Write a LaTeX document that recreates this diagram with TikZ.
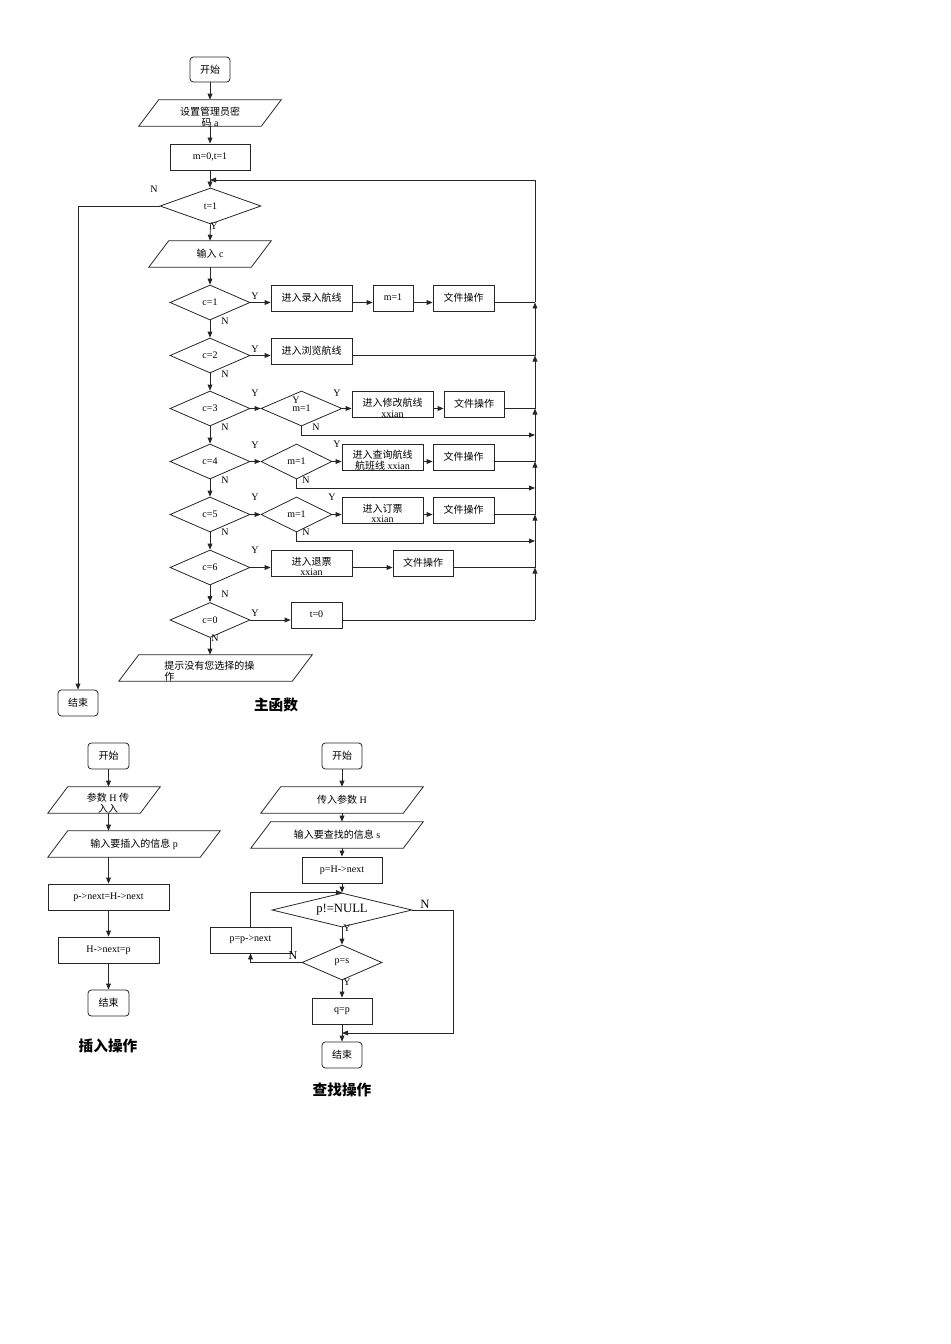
\documentclass[tikz,border=0pt]{standalone}
\usepackage{fontspec}
\setmainfont{Liberation Serif}
\newfontfamily\cjk{Noto Sans CJK SC}
\usetikzlibrary{shapes.geometric,arrows.meta,calc}
\newcommand\zh[1]{{\cjk #1}}
\newcommand\fs{\fontsize{7.5}{8}\selectfont}
\newcommand\para[6]{%
  \node[ptext, sz={#4}{#5}] (#1) at (#2,#3) {#6};
  \draw[ln] ($(#1.south west)+(-10,0)$) -- ($(#1.south east)+(-10,0)$) -- ($(#1.north east)+(10,0)$) -- ($(#1.north west)+(10,0)$) -- cycle;}
\tikzset{
  ln/.style={line width=0.6pt, draw=black!85},
  arr/.style={ln, -{Triangle[length=4.5pt,width=3.6pt]}},
  bx/.style={draw=black!85, line width=0.6pt, rectangle, inner sep=0pt, align=center, font=\fs},
  rbx/.style={bx, rounded corners=2.5pt},
  dia/.style={draw=black!85, line width=0.6pt, diamond, aspect=3, inner sep=0pt, align=center, font=\fs},
  sz/.style 2 args={minimum width=#1*0.75pt, minimum height=#2*0.75pt},
  lab/.style={inner sep=0pt, font=\fs},
  ptext/.style={rectangle, inner sep=0pt, align=center, font=\fs},
  ttl/.style={inner sep=0pt, font=\fontsize{11}{12}\selectfont\cjk\bfseries},
}
\begin{document}
\begin{tikzpicture}[x=0.75pt,y=-0.75pt]
\useasboundingbox (0,0) rectangle (950,1344);
% ---------------- main function ----------------
\node[rbx, sz={40}{25}] (s0) at (210,69.5) {\zh{开始}};
\para{pa}{210}{113}{122}{26}{}
\node[ptext] (pat) at (210,117) {\zh{设置管理员密}\\\zh{码} a};
\node[bx, sz={80}{26}] (m0) at (210,157) {m=0,t=1};
\node[dia, sz={101}{36}] (t1) at (210.5,206) {t=1};
\para{ic}{210}{254}{102}{26}{\zh{输入} c}
\node[dia, sz={80}{35}] (c1) at (210,302.5) {c=1};
\node[bx, sz={81}{26}] (b1) at (311.5,298) {\raisebox{1.5pt}{\zh{进入录入航线}}};
\node[bx, sz={40}{26}] (m1a) at (393,298) {\raisebox{1.5pt}{m=1}};
\node[bx, sz={61}{26}] (f1) at (463.5,298) {\raisebox{1.5pt}{\zh{文件操作}}};
\node[dia, sz={80}{35}] (c2) at (210,355.5) {c=2};
\node[bx, sz={81}{26}] (b2) at (311.5,351) {\raisebox{1.5pt}{\zh{进入浏览航线}}};
\node[dia, sz={80}{35}] (c3) at (210,408.5) {c=3};
\node[dia, sz={81}{35}] (d3) at (301.5,408.5) {m=1};
\node[bx, sz={81}{26}] (b3) at (392.5,404) {};
\node[ptext] (b3t) at (392.5,407.5) {\zh{进入修改航线}\\xxian};
\node[bx, sz={60}{26}] (f3) at (474,404) {\raisebox{1.5pt}{\zh{文件操作}}};
\node[dia, sz={80}{35}] (c4) at (210,461.5) {c=4};
\node[dia, sz={71}{35}] (d4) at (296.5,461.5) {m=1};
\node[bx, sz={81}{26}] (b4) at (382.5,457) {};
\node[ptext] (b4t) at (382.5,460) {\zh{进入查询航线}\\\zh{航班线} xxian};
\node[bx, sz={61}{26}] (f4) at (463.5,457) {\raisebox{1.5pt}{\zh{文件操作}}};
\node[dia, sz={80}{35}] (c5) at (210,514.5) {c=5};
\node[dia, sz={71}{35}] (d5) at (296.5,514.5) {m=1};
\node[bx, sz={81}{26}] (b5) at (382.5,510) {};
\node[ptext] (b5t) at (382.5,513.5) {\zh{进入订票}\\xxian};
\node[bx, sz={61}{26}] (f5) at (463.5,510) {\raisebox{1.5pt}{\zh{文件操作}}};
\node[dia, sz={80}{35}] (c6) at (210,567.5) {c=6};
\node[bx, sz={81}{26}] (b6) at (311.5,563) {};
\node[ptext] (b6t) at (311.5,566.5) {\zh{进入退票}\\xxian};
\node[bx, sz={60}{26}] (f6) at (423,563) {\raisebox{1.5pt}{\zh{文件操作}}};
\node[dia, sz={80}{35}] (c0) at (210,620) {c=0};
\node[bx, sz={51}{26}] (t0) at (316.5,615) {\raisebox{1.5pt}{t=0}};
\node[ptext, sz={173}{26}, align=left] (tip) at (215.5,668) {};
\draw[ln] ($(tip.south west)+(-10,0)$) -- ($(tip.south east)+(-10,0)$) -- ($(tip.north east)+(10,0)$) -- ($(tip.north west)+(10,0)$) -- cycle;
\node[ptext, align=left, anchor=west] (tipt) at (164,671) {\zh{提示没有您选择的操}\\\zh{作}};
\node[rbx, sz={40}{26}] (e0) at (78,703) {\zh{结束}};
\node[ttl] (tm) at (276,705) {主函数};
% junction coordinates on right spine
\coordinate (jt) at (535,180);
\coordinate (j1) at (535,302.5);
\coordinate (j2) at (535,355.5);
\coordinate (j3) at (535,408.5);
\coordinate (n3) at (535,435);
\coordinate (j4) at (535,461.5);
\coordinate (n4) at (535,488);
\coordinate (j5) at (535,514.5);
\coordinate (n5) at (535,541);
\coordinate (j6) at (535,567.5);
\coordinate (j0) at (535,620);
\coordinate (lt) at (78,206);
% main vertical flow
\draw[arr] (s0.south) -- (pa.north);
\draw[arr] (pa.south) -- (m0.north);
\draw[arr] (m0.south) -- (m0.south |- t1.north);
\draw[arr] (t1.south) -- (ic.north);
\draw[arr] (ic.south) -- (c1.north);
\draw[arr] (c1.south) -- (c2.north);
\draw[arr] (c2.south) -- (c3.north);
\draw[arr] (c3.south) -- (c4.north);
\draw[arr] (c4.south) -- (c5.north);
\draw[arr] (c5.south) -- (c6.north);
\draw[arr] (c6.south) -- (c0.north);
\draw[arr] (c0.south) -- (c0.south |- tip.north);
\draw[arr] (t1.west) -- (lt) -- (e0.north);
% branches
\draw[arr] (c1.east) -- (c1.east -| b1.west);
\draw[arr] (b1.east |- c1) -- (m1a.west |- c1);
\draw[arr] (m1a.east |- c1) -- (f1.west |- c1);
\draw[ln] (f1.east |- c1) -- (j1);
\draw[arr] (c2.east) -- (c2.east -| b2.west);
\draw[ln] (b2.east |- c2) -- (j2);
\draw[arr] (c3.east) -- (d3.west);
\draw[arr] (d3.east) -- (d3.east -| b3.west);
\draw[arr] (b3.east |- d3) -- (f3.west |- d3);
\draw[ln] (f3.east |- d3) -- (j3);
\draw[arr] (d3.south) -- (d3.south |- n3) -- (n3);
\draw[arr] (c4.east) -- (d4.west);
\draw[arr] (d4.east) -- (d4.east -| b4.west);
\draw[arr] (b4.east |- d4) -- (f4.west |- d4);
\draw[ln] (f4.east |- d4) -- (j4);
\draw[arr] (d4.south) -- (d4.south |- n4) -- (n4);
\draw[arr] (c5.east) -- (d5.west);
\draw[arr] (d5.east) -- (d5.east -| b5.west);
\draw[arr] (b5.east |- d5) -- (f5.west |- d5);
\draw[ln] (f5.east |- d5) -- (j5);
\draw[arr] (d5.south) -- (d5.south |- n5) -- (n5);
\draw[arr] (c6.east) -- (c6.east -| b6.west);
\draw[arr] (b6.east |- c6) -- (f6.west |- c6);
\draw[ln] (f6.east |- c6) -- (j6);
\draw[arr] (c0.east) -- (c0.east -| t0.west);
\draw[ln] (t0.east |- c0) -- (j0);
% right spine
\draw[arr] (j0) -- (j6);
\draw[arr] (j6) -- (j5);
\draw[arr] (j5) -- (j4);
\draw[arr] (j4) -- (j3);
\draw[arr] (j3) -- (j2);
\draw[arr] (j2) -- (j1);
\draw[arr] (j1) -- (jt) -- (m0.south |- jt);
% labels
\node[lab] at (154,189) {N};
\node[lab] at (214,226) {Y};
\foreach \yy in {321,374,427,480,532} \node[lab] at (225,\yy) {N};
\node[lab] at (225,594) {N};
\node[lab] at (215,638) {N};
\foreach \yy in {296,349,393,445,497,550} \node[lab] at (255,\yy) {Y};
\node[lab] at (255,613) {Y};
\node[lab] at (296,400) {Y};
\node[lab] at (337,393) {Y};
\node[lab] at (337,444) {Y};
\node[lab] at (332,497) {Y};
\node[lab] at (316,427) {N};
\node[lab] at (306,480) {N};
\node[lab] at (306,532) {N};
% ---------------- insert operation ----------------
\node[rbx, sz={41}{26}] (i0) at (108.5,756) {\zh{开始}};
\para{ia}{104}{800}{92}{26}{}
\node[ptext] (iat) at (108,803) {\zh{参数} H \zh{传}\\\zh{入入}};
\para{ib}{134}{844}{152}{26}{\raisebox{1.5pt}{\zh{输入要插入的信息} p}}
\node[bx, sz={121}{26}] (ic2) at (108.5,897) {\raisebox{1.5pt}{p->next=H->next}};
\node[bx, sz={101}{26}] (id) at (108.5,950) {\raisebox{1.5pt}{H->next=p}};
\node[rbx, sz={41}{26}] (ie) at (108.5,1003) {\zh{结束}};
\node[ttl] (ti) at (108,1046) {插入操作};
\draw[arr] (i0.south) -- (i0.south |- ia.north);
\draw[arr] (i0.south |- ia.south) -- (i0.south |- ib.north);
\draw[arr] (i0.south |- ib.south) -- (ic2.north);
\draw[arr] (ic2.south) -- (id.north);
\draw[arr] (id.south) -- (ie.north);
% ---------------- search operation ----------------
\node[rbx, sz={40}{26}] (q0) at (342,756) {\zh{开始}};
\para{qa}{342}{800}{142}{26}{\raisebox{1.5pt}{\zh{传入参数} H}}
\para{qb}{337}{835}{152}{26}{\raisebox{1.5pt}{\zh{输入要查找的信息} s}}
\node[bx, sz={80}{26}] (qc) at (342,870) {\raisebox{1.5pt}{p=H->next}};
\node[dia, aspect=5, sz={140}{34}, font=\fontsize{9.5}{10}\selectfont] (qd) at (342,910) {p!=NULL};
\node[dia, sz={80}{35}] (qe) at (342,962.5) {p=s};
\node[bx, sz={60}{26}] (qf) at (342,1011) {\raisebox{1.5pt}{q=p}};
\node[rbx, sz={40}{26}] (qg) at (342,1055) {\zh{结束}};
\node[bx, sz={81}{26}] (qh) at (250.5,940) {\raisebox{1.5pt}{p=p->next}};
\node[ttl] (tq) at (342,1090) {查找操作};
\coordinate (qr1) at (453,910);
\coordinate (qr2) at (453,1033);
\coordinate (ql) at (250.5,962.5);
\draw[arr] (q0.south) -- (qa.north);
\draw[arr] (qa.south) -- (qa.south |- qb.north);
\draw[arr] (qa.south |- qb.south) -- (qc.north);
\draw[arr] (qc.south) -- (qd.north);
\draw[arr] (qd.south) -- (qe.north);
\draw[arr] (qe.south) -- (qf.north);
\draw[arr] (qf.south) -- (qg.north);
\draw[arr] (qd.east) -- (qr1) -- (qr2) -- (qf.south |- qr2);
\draw[arr] (qe.west) -- (ql) -- (qh.south);
\draw[arr] (qh.north) |- (qd.north);
\node[inner sep=0pt, font=\fontsize{9.5}{10}\selectfont] at (425,904) {N};
\node[lab] at (347,928) {Y};
\node[lab] at (347,982) {Y};
\node[inner sep=0pt, font=\fontsize{9}{10}\selectfont] at (293,956) {N};
\end{tikzpicture}
\end{document}
